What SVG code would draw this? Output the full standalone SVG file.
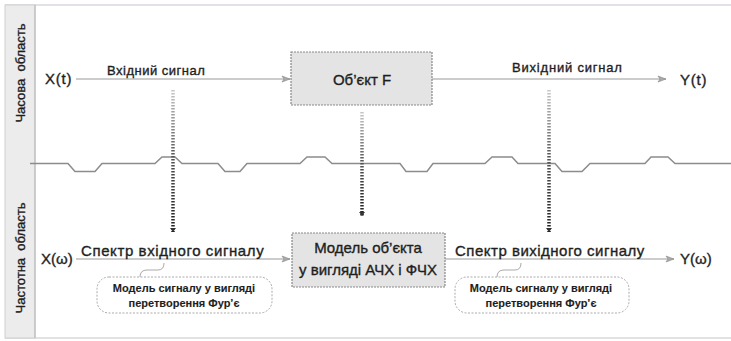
<svg xmlns="http://www.w3.org/2000/svg" width="731" height="341" viewBox="0 0 731 341">
<defs>
<marker id="ah" markerWidth="10" markerHeight="8" refX="9" refY="4" orient="auto" markerUnits="userSpaceOnUse">
<path d="M1,1 L9,4 L1,7 L3,4 Z" fill="#aaa" stroke="#888" stroke-width="0.6"/>
</marker>
<marker id="dh" markerWidth="8" markerHeight="8" refX="4" refY="6" orient="0" markerUnits="userSpaceOnUse">
<path d="M1,2 L4,6 L7,2 Z" fill="#333"/>
</marker>
<linearGradient id="g1" gradientUnits="userSpaceOnUse" x1="0" y1="90" x2="0" y2="238">
<stop offset="0" stop-color="#c8c8c8"/><stop offset="0.45" stop-color="#555"/><stop offset="1" stop-color="#1a1a1a"/>
</linearGradient>
<linearGradient id="g2" gradientUnits="userSpaceOnUse" x1="0" y1="112" x2="0" y2="222">
<stop offset="0" stop-color="#c8c8c8"/><stop offset="0.45" stop-color="#555"/><stop offset="1" stop-color="#1a1a1a"/>
</linearGradient>
</defs>
<style>
.t{font-family:"Liberation Sans",Arial,sans-serif;fill:#1e1e1e;stroke:#1e1e1e;stroke-width:0.35}
.ln{fill:none;stroke:#9a9a9a;stroke-width:1.2}
.box{fill:#e4e4e4;stroke:#888;stroke-width:1.2;stroke-dasharray:2 1}
.call{fill:#fff;stroke:#aaa;stroke-width:1;stroke-dasharray:2 1.5}
.dot{fill:none;stroke-width:3.5;stroke-dasharray:1.6 1.4}
.wave{fill:none;stroke:#8c8c8c;stroke-width:1.5}
.ct{font-size:11px;font-weight:bold;stroke-width:0.1}
</style>
<rect x="0" y="0" width="731" height="341" fill="#fff"/>
<line x1="5" y1="5" x2="731" y2="5" stroke="#dcd6e0" stroke-width="1.5"/>
<line x1="5" y1="338" x2="731" y2="338" stroke="#d8d8d8" stroke-width="1.5"/>
<g id="sidebar">
<rect x="5" y="5" width="30" height="333" fill="#ececec" stroke="#cfcfcf" stroke-width="1"/>
<line x1="35" y1="5" x2="35" y2="338" stroke="#bdbdbd" stroke-width="1.2"/>
<text class="t" transform="translate(25,73) rotate(-90)" text-anchor="middle" font-size="13" xml:space="preserve">Часова  область</text>
<text class="t" transform="translate(25,258) rotate(-90)" text-anchor="middle" font-size="13" xml:space="preserve">Частотна  область</text>
</g>
<path class="wave" d="M30,163.5 H68 L75,171.5 H95 L102,163.5 H155 L162,157 H175 L182,163.5 H218 L225,171.5 H240 L247,163.5 H300 L307,157 H325 L332,163.5 H400 L406,171.5 H427 L433,163.5 H485 L492,157 H512 L518,163.5 H555 L562,171.5 H582 L590,163.5 H645 L651,157 H668 L675,163.5 H731"/>
<g id="connectors">
<line class="ln" x1="76" y1="79" x2="290" y2="79" marker-end="url(#ah)"/>
<line class="ln" x1="432" y1="79" x2="666" y2="79" marker-end="url(#ah)"/>
<line class="ln" x1="76" y1="259" x2="290" y2="259" marker-end="url(#ah)"/>
<line class="ln" x1="445" y1="259" x2="674" y2="259" marker-end="url(#ah)"/>
<line class="dot" x1="173" y1="90" x2="173" y2="232" stroke="url(#g1)" marker-end="url(#dh)"/>
<line class="dot" x1="362" y1="112" x2="362" y2="216" stroke="url(#g2)" marker-end="url(#dh)"/>
<line class="dot" x1="549" y1="90" x2="549" y2="232" stroke="url(#g1)" marker-end="url(#dh)"/>
</g>
<g id="x_t"><text class="t" x="45" y="84" font-size="15" letter-spacing="0.8">X(t)</text></g>
<g id="in_label"><text class="t" x="107" y="75" font-size="13" letter-spacing="0.5">Вхідний сигнал</text></g>
<g id="object_f">
<rect class="box" x="291" y="52" width="141" height="53"/>
<text class="t" x="362" y="85" font-size="15" text-anchor="middle">Об’єкт F</text>
</g>
<g id="out_label"><text class="t" x="512" y="72" font-size="13" letter-spacing="0.8">Вихідний сигнал</text></g>
<g id="y_t"><text class="t" x="680" y="85" font-size="15" letter-spacing="0.8">Y(t)</text></g>
<g id="x_w"><text class="t" x="41" y="264" font-size="15">X(ω)</text></g>
<g id="in_spec"><text class="t" x="81" y="256" font-size="15" letter-spacing="0.6">Спектр вхідного сигналу</text></g>
<g id="model">
<rect class="box" x="292" y="233" width="153" height="54"/>
<text class="t" x="368" y="253" font-size="15" text-anchor="middle">Модель об’єкта</text>
<text class="t" x="368" y="275" font-size="15" text-anchor="middle">у вигляді АЧХ і ФЧХ</text>
</g>
<g id="out_spec"><text class="t" x="455" y="256" font-size="15" letter-spacing="0.5">Спектр вихідного сигналу</text></g>
<g id="y_w"><text class="t" x="680" y="264" font-size="15">Y(ω)</text></g>
<g id="callout_in">
<rect class="call" x="97" y="277" width="175" height="36" rx="12"/>
<path d="M140,277 q0,-7 7,-7 h11 q6,0 6,-7" fill="none" stroke="#aaa" stroke-width="1"/>
<text class="t ct" x="184" y="292" text-anchor="middle">Модель сигналу у вигляді</text>
<text class="t ct" x="184" y="307" text-anchor="middle">перетворення Фур’є</text>
</g>
<g id="callout_out">
<rect class="call" x="455" y="277" width="174" height="36" rx="12"/>
<path d="M497,277 q0,-7 7,-7 h11 q6,0 6,-7" fill="none" stroke="#aaa" stroke-width="1"/>
<text class="t ct" x="541" y="292" text-anchor="middle">Модель сигналу у вигляді</text>
<text class="t ct" x="541" y="307" text-anchor="middle">перетворення Фур’є</text>
</g>
</svg>
